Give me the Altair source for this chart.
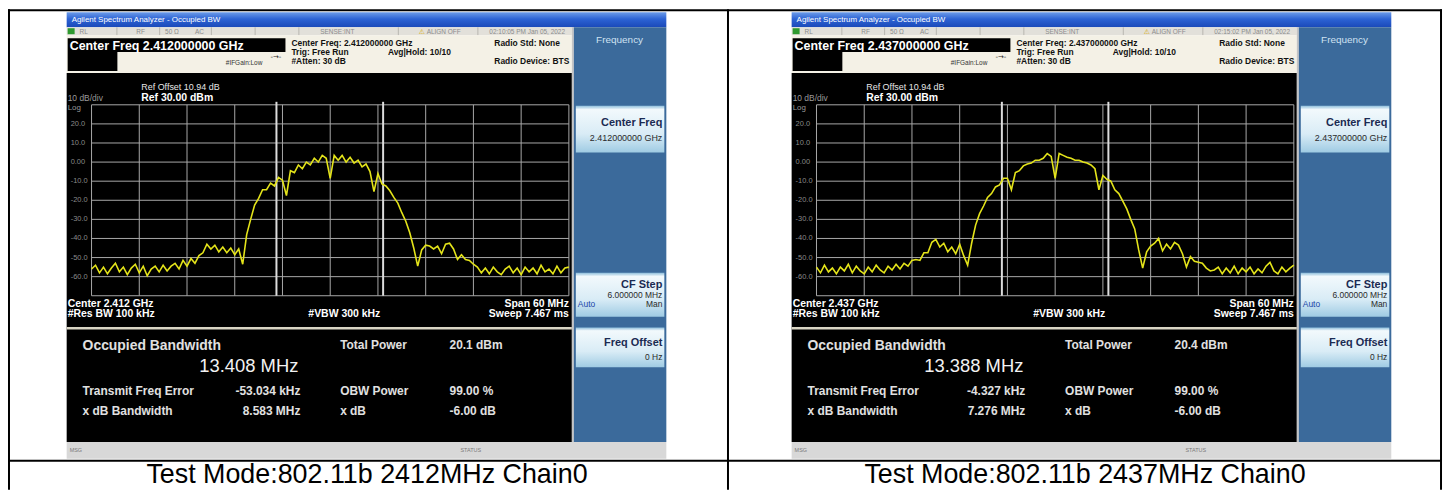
import altair as alt
import numpy as np
import pandas as pd

# ---------------- data ----------------
# trace level (dBm) on the 0.5 MHz sweep grid, -30 ... +30 MHz from centre
trace_2412 = [
    -56, -54, -58, -55, -58.5, -55.5, -53, -57.5, -55, -59,
    -55.5, -53.5, -58, -54.5, -59.5, -56, -54.5, -57.5, -54, -57, -54.5,
    -53, -56, -51.5, -54.5, -50.5, -53, -49,
    -47.5, -43, -45.5,
    -43.5, -47, -44.5, -47.5, -45, -48.5, -45.5,
    -53.5,
    -38, -30, -22.5, -19, -14.5, -14.5, -11, -12.5, -8, -9.5,
    -17.5, -4.5, -5.5, -1.5, -3.5, 0, -1.5, 2, 0, 3.5,
    2, -8.5, 3.5, 1, 3.5, 0, 2.5, -0.5, 1, -2.5,
    -1, -5, -15.5, -6, -11.5, -12.5, -15, -18.5, -21.5, -26.5,
    -31, -37, -45, -54.5, -46, -43.5, -44, -45.5, -44, -48,
    -43, -42.5, -45.5, -51, -48.5, -51, -51.5, -53.5, -55, -58,
    -55.5, -58.5, -55, -57.5, -59, -56, -54.5, -58, -55.5, -59,
    -55, -57.5, -55.5, -58.5, -54, -57.5, -56, -58.5, -54.5, -58, -55.5, -55,
]
trace_2437 = [
    -55, -58, -54, -57.5, -55.5, -58.5, -55, -57, -53.5, -58,
    -54.5, -57, -58.5, -55, -57.5, -54, -56.5, -58, -54.5, -56.5,
    -53.5, -56, -53,
    -54.5, -51.5, -51, -51.5, -47.5, -47.5, -42, -40.5, -44.5, -42.5,
    -47, -44.5, -48, -43, -49, -54, -42.5, -33, -27, -23,
    -18.5, -16.5, -13, -12, -8.5, -8.5, -14.5, -5.5, -4.5, -2,
    -1, -0.5, 1, 1, 2, 4.5, 3, -8.5, 4.5, 3.5,
    2.5, 2, 1, 1, 0, -0.5, -1.5, -3.5, -14.5, -7,
    -9, -10, -14.5, -16.5, -20.5, -24.5, -30, -35, -46, -55.5,
    -47, -44, -42.5, -40, -46.5, -43, -45.5, -42, -43.5, -48,
    -55, -49.5, -52, -52.5, -53, -55.5, -57,
    -56.5, -55, -58.5, -55.5, -58, -54.5, -58.5, -55.5, -57.5, -55,
    -58.5, -56, -58, -54.5, -52.5, -57, -58.5, -55, -57.5, -55.5, -54,
]
traces = [trace_2412, trace_2437]
grid_freq = [-30, -24, -18, -12, -6, 0, 6, 12, 18, 24, 30]
grid_db = [30, 20, 10, 0, -10, -20, -30, -40, -50, -60, -70]
ylab_db = [20, 10, 0, -10, -20, -30, -40, -50, -60]
ylab_txt = ["20.0", "10.0", "0.00", "-10.0", "-20.0", "-30.0", "-40.0", "-50.0", "-60.0"]
center_freq_ghz = ["2.412000000", "2.437000000"]
center_short = ["2.412", "2.437"]
timestamps = ["02:10:05 PM Jan 05, 2022", "02:15:02 PM Jan 05, 2022"]
obw_mhz = [13.408, 13.388]
tx_freq_err_khz = [-53.034, -4.327]
xdb_bw_mhz = [8.583, 7.276]
total_power_dbm = [20.1, 20.4]
obw_power_pct = [99.00, 99.00]
xdb_db = [-6.00, -6.00]
captions = ["Test Mode:802.11b 2412MHz Chain0", "Test Mode:802.11b 2437MHz Chain0"]

# ---------------- drawing helpers ----------------
OX = OY = 8
UI = "Liberation Sans"
ONE = pd.DataFrame({"k": [0]})
layers = []


def vgrad(stops):
    return alt.Gradient(gradient="linear",
                        stops=[alt.GradientStop(offset=o, color=c) for o, c in stops],
                        x1=0, x2=0, y1=0, y2=1)


def rect(x0, y0, x1, y1, fill, **kw):
    layers.append(alt.Chart(ONE).mark_rect(fill=fill, **kw).encode(
        x=alt.value(x0 - OX), x2=alt.value(x1 - OX),
        y=alt.value(y0 - OY), y2=alt.value(y1 - OY)))


def text(s, x, y, size, color="#ffffff", weight="normal", align="left",
         baseline="middle", font=UI):
    layers.append(alt.Chart(ONE).mark_text(
        text=s, fontSize=size, color=color, fontWeight=weight, align=align,
        baseline=baseline, font=font).encode(x=alt.value(x - OX), y=alt.value(y - OY)))


def panel(i, dx):
    L, R = 67 + dx, 670 + dx
    # title bar
    rect(L, 11, R, 26, vgrad([(0, "#6a9ae8"), (0.45, "#2d63d4"), (1, "#1a49b9")]))
    text("Agilent Spectrum Analyzer - Occupied BW", 72 + dx, 18.5, 8, "#ffffff")
    # status row
    rect(L, 26, 575 + dx, 34, "#e2e0da")
    rect(68 + dx, 27, 75 + dx, 33, "#2f9a2f")
    for xd in [117, 160, 212, 256, 300, 400, 480]:
        rect(xd + dx, 26, xd + 1 + dx, 34, "#b8b6b0")
    for s, x in [("RL", 80), ("RF", 137), ("50 Ω", 166), ("AC", 196), ("SENSE:INT", 322)]:
        text(s, x + dx, 30.5, 6.5, "#8c8c8c")
    text("⚠", 421 + dx, 30.5, 7, "#d8a800", font="DejaVu Sans")
    text("ALIGN OFF", 429 + dx, 30.5, 6.5, "#8c8c8c")
    text(timestamps[i], 492 + dx, 30.5, 6.5, "#8c8c8c")
    # header
    rect(L, 34, 575 + dx, 72, "#f4f1e6")
    rect(68 + dx, 37, 287 + dx, 51, "#000000")
    rect(68 + dx, 51, 118 + dx, 70, "#000000")
    text(f"Center Freq {center_freq_ghz[i]} GHz", 70 + dx, 44.5, 12.5, "#ffffff", "bold")
    text("#IFGain:Low", 227 + dx, 62, 6.5, "#333333")
    text("-→-", 272 + dx, 56, 7, "#222222", font="DejaVu Sans")
    hd = "#111111"
    text(f"Center Freq: {center_freq_ghz[i]} GHz", 293 + dx, 42, 8.5, hd, "bold")
    text("Trig: Free Run", 293 + dx, 51, 8.5, hd, "bold")
    text("Avg|Hold: 10/10", 390 + dx, 51, 8.5, hd, "bold")
    text("#Atten: 30 dB", 293 + dx, 59.5, 8.5, hd, "bold")
    text("Radio Std: None", 497 + dx, 42, 8.5, hd, "bold")
    text("Radio Device: BTS", 497 + dx, 59.5, 8.5, hd, "bold")
    # measurement screen
    rect(L, 72, 575 + dx, 443, "#000000")
    text("Ref Offset 10.94 dB", 142 + dx, 86, 9, "#e6e6e6")
    text("10 dB/div", 68 + dx, 97, 8.5, "#9a9a9a")
    text("Ref 30.00 dBm", 142 + dx, 97, 10.5, "#ffffff", "bold")
    text("Log", 68 + dx, 107, 8, "#9a9a9a")

    xs = alt.Scale(domain=[-30, 30], range=[92 + dx - OX, 572 + dx - OX], nice=False, zero=False)
    ys = alt.Scale(domain=[-70, 30], range=[296 - OY, 104 - OY], nice=False, zero=False)
    layers.append(alt.Chart(pd.DataFrame({"f": grid_freq})).mark_rule(
        color="#a8a8a8", strokeWidth=1).encode(
        x=alt.X("f:Q", scale=xs, axis=None),
        y=alt.value(104 - OY), y2=alt.value(296 - OY)))
    layers.append(alt.Chart(pd.DataFrame({"db": grid_db})).mark_rule(
        color="#a8a8a8", strokeWidth=1).encode(
        y=alt.Y("db:Q", scale=ys, axis=None),
        x=alt.value(92 + dx - OX), x2=alt.value(572 + dx - OX)))
    err = tx_freq_err_khz[i] / 1000.0
    half = obw_mhz[i] / 2.0
    layers.append(alt.Chart(pd.DataFrame({"f": [err - half, err + half]})).mark_rule(
        color="#dcdcdc", strokeWidth=2).encode(
        x=alt.X("f:Q", scale=xs, axis=None),
        y=alt.value(101 - OY), y2=alt.value(296 - OY)))
    layers.append(alt.Chart(pd.DataFrame({"db": ylab_db, "t": ylab_txt})).mark_text(
        align="left", baseline="middle", fontSize=7.5, color="#8a8a8a", font=UI).encode(
        x=alt.value(71 + dx - OX),
        y=alt.Y("db:Q", scale=ys, axis=None), text="t:N"))
    vals = traces[i]
    df = pd.DataFrame({"f": np.linspace(-30, 30, len(vals)), "db": vals})
    layers.append(alt.Chart(df).mark_line(color="#e4e41a", strokeWidth=1.6).encode(
        x=alt.X("f:Q", scale=xs, axis=None),
        y=alt.Y("db:Q", scale=ys, axis=None)))

    # settings under the graticule
    text(f"Center  {center_short[i]} GHz", 68 + dx, 304.5, 10.5, "#ffffff", "bold")
    text("#Res BW  100 kHz", 68 + dx, 314, 10.5, "#ffffff", "bold")
    text("#VBW  300 kHz", 310 + dx, 314, 10.5, "#ffffff", "bold")
    text("Span 60 MHz", 572 + dx, 304.5, 10.5, "#ffffff", "bold", align="right")
    text("Sweep  7.467 ms", 572 + dx, 314, 10.5, "#ffffff", "bold", align="right")
    rect(L, 327.5, 575 + dx, 330, "#d9d5c4")
    # results
    rc = "#e0e0e0"
    text("Occupied Bandwidth", 83 + dx, 346.5, 14, rc, "bold")
    text(f"{obw_mhz[i]:.3f} MHz", 300 + dx, 367, 18.5, "#f2f2f2", align="right")
    text("Transmit Freq Error", 83 + dx, 392, 12, rc, "bold")
    text(f"{tx_freq_err_khz[i]:.3f} kHz", 302 + dx, 392, 12, rc, "bold", align="right")
    text("x dB Bandwidth", 83 + dx, 412, 12, rc, "bold")
    text(f"{xdb_bw_mhz[i]:.3f} MHz", 302 + dx, 412, 12, rc, "bold", align="right")
    text("Total Power", 342 + dx, 346, 12, rc, "bold")
    text(f"{total_power_dbm[i]:.1f} dBm", 452 + dx, 346, 12, rc, "bold")
    text("OBW Power", 342 + dx, 392, 12, rc, "bold")
    text(f"{obw_power_pct[i]:.2f} %", 452 + dx, 392, 12, rc, "bold")
    text("x dB", 342 + dx, 412, 12, rc, "bold")
    text(f"{xdb_db[i]:.2f} dB", 452 + dx, 412, 12, rc, "bold")

    # soft-key panel
    rect(575 + dx, 26, 577 + dx, 443, "#c4c4c4")
    rect(577 + dx, 26, R, 443, "#3b6a9b")
    text("Frequency", 623 + dx, 39, 10, "#cfe2f2", align="center")
    btn = vgrad([(0, "#8fbfdc"), (0.08, "#f2f9fc"), (0.6, "#d9ecf6"), (1, "#9fcbe3")])
    for y0, y1 in [(105, 152), (273, 317), (328, 368)]:
        rect(579 + dx, y0, 668 + dx, y1, btn)
    kc = "#1b2b52"
    text("Center Freq", 666 + dx, 122, 11, kc, "bold", align="right")
    text(f"{center_freq_ghz[i]} GHz", 666 + dx, 137, 9, "#2a2a2a", align="right")
    text("CF Step", 666 + dx, 285, 11, kc, "bold", align="right")
    text("6.000000 MHz", 666 + dx, 295, 8.5, "#2a2a2a", align="right")
    text("Auto", 581 + dx, 304, 8.5, "#2046a8")
    text("Man", 666 + dx, 304, 8.5, "#2a2a2a", align="right")
    text("Freq Offset", 666 + dx, 344, 11, kc, "bold", align="right")
    text("0 Hz", 666 + dx, 358, 8.5, "#2a2a2a", align="right")
    # message bar
    rect(L, 443, R, 460, "#d8d8d8")
    text("MSG", 70 + dx, 451.5, 5.5, "#7a7a7a")
    text("STATUS", 463 + dx, 451.5, 5.5, "#7a7a7a")


panel(0, 0)
panel(1, 729)

# table rules and captions
rect(8, 8, 1450, 10, "#000000")
rect(8, 8, 10, 491, "#000000")
rect(731, 8, 733, 491, "#000000")
rect(1448, 8, 1450, 491, "#000000")
rect(8, 461, 1450, 463, "#000000")
text(captions[0], 369, 484.5, 27, "#000000", baseline="alphabetic", align="center")
text(captions[1], 1091, 484.5, 27, "#000000", baseline="alphabetic", align="center")

chart = alt.layer(*layers).resolve_scale(x="independent", y="independent").properties(
    width=1444, height=483, padding=0,
    autosize=alt.AutoSizeParams(type="none"), background="#ffffff",
).configure_view(stroke=None)

chart.save("out.html", embed_options={"renderer": "svg", "actions": False})
